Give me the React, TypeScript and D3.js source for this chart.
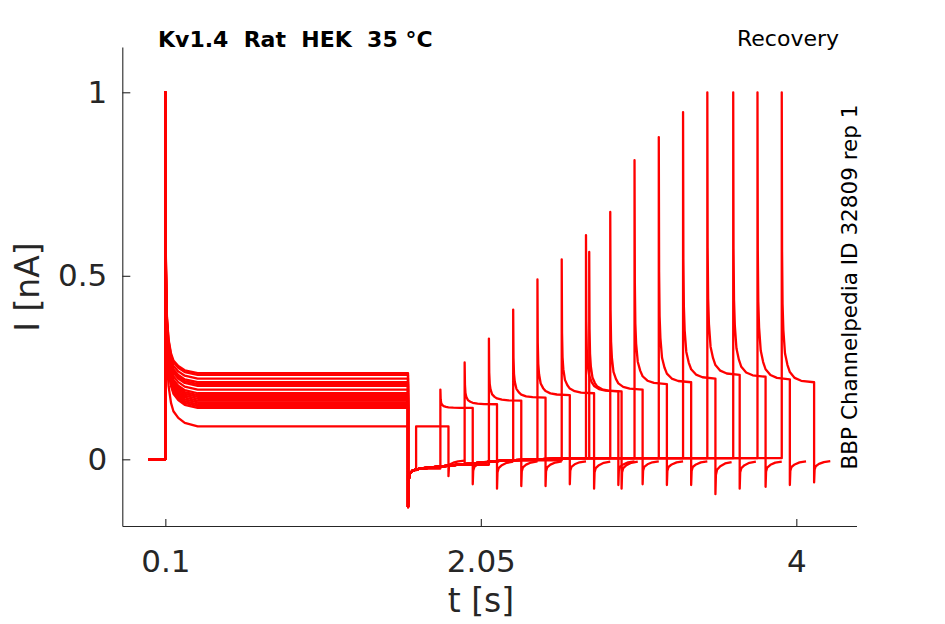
import React, { useEffect, useRef } from "react";
import * as d3 from "d3";

// ---- protocol (s) ----
const firstOnset = 0.1;
const firstOffset = 1.6;
const secondDuration = 0.2;
const tailDuration = 0.1;
const traceStart = -0.005;

// ---- per-trace values ----
const firstPlateaus = [0.09, 0.14, 0.145, 0.15, 0.155, 0.16, 0.165, 0.17, 0.175, 0.18, 0.19, 0.2, 0.205, 0.21, 0.22, 0.23, 0.235];
const secondOnsets = [1.65, 1.8, 1.95, 2.1, 2.25, 2.4, 2.55, 2.7, 2.72, 2.85, 3.0, 3.15, 3.3, 3.45, 3.61, 3.76, 3.91];
const secondPeaks = [0.09, 0.19, 0.264, 0.329, 0.408, 0.49, 0.545, 0.611, 0.565, 0.674, 0.815, 0.878, 0.946, 1, 1, 1, 1];
const secondPlateaus = [0.09, 0.14, 0.15, 0.16, 0.168, 0.175, 0.18, 0.185, 0.185, 0.19, 0.205, 0.21, 0.22, 0.23, 0.225, 0.218, 0.21];
const endDips = [-0.046, -0.068, -0.08, -0.073, -0.073, -0.068, -0.08, -0.07, -0.08, -0.068, -0.07, -0.07, -0.095, -0.08, -0.075, -0.07, -0.063];

// ---- shared waveform shapes ----
const spikeOffsets = [0, 0.002, 0.005, 0.01, 0.02, 0.035, 0.05, 0.08, 0.12, 0.2];
const firstDecay = [1, 0.5, 0.3, 0.2, 0.12, 0.07, 0.045, 0.025, 0.01, 0];
const secondDecay = [1, 0.45, 0.27, 0.18, 0.1, 0.06, 0.035, 0.015, 0.005, 0];
const offTimes = [0, 0.003, 0.01, 0.03, 0.08, 0.3, 0.6, 1.0, 2.5];
const offCurrents = [-0.13, -0.06, -0.04, -0.03, -0.025, -0.015, -0.003, 0.003, 0.005];
const tailTimes = [0, 0.003, 0.01, 0.03, 0.06, 0.1];
const tailShape = [1, 0.45, 0.3, 0.2, 0.12, 0.08];

// ---- axes ----
const xTicks = [0.1, 2.05, 4];
const yTicks = [0, 0.5, 1];
const xDomain = [-0.166, 4.372];
const yDomain = [-0.1817, 1.1234];

const title = "Kv1.4  Rat  HEK  35 °C";
const protocol = "Recovery";
const source = "BBP Channelpedia ID 32809 rep 1";
const xLabel = "t [s]";
const yLabel = "I [nA]";

const W = 945;
const H = 624;
const FONT = "'DejaVu Sans', sans-serif";
const INK = "#262626";

function buildTrace(i: number): [number, number][] {
  const pts: [number, number][] = [];
  pts.push([traceStart, 0]);
  pts.push([firstOnset, 0]);
  spikeOffsets.forEach((o, k) => {
    const p = firstPlateaus[i];
    pts.push([firstOnset + o, p + (1 - p) * firstDecay[k]]);
  });
  pts.push([firstOffset, firstPlateaus[i]]);
  const interval = secondOnsets[i] - firstOffset;
  let last = offCurrents[0];
  offTimes.forEach((o, k) => {
    if (o < interval) {
      pts.push([firstOffset + o, offCurrents[k]]);
      last = offCurrents[k];
    }
  });
  const s = secondOnsets[i];
  pts.push([s, last]);
  spikeOffsets.forEach((o, k) => {
    const p = secondPlateaus[i];
    pts.push([s + o, p + (secondPeaks[i] - p) * secondDecay[k]]);
  });
  const e = s + secondDuration;
  pts.push([e, secondPlateaus[i]]);
  tailTimes.forEach((o, k) => {
    if (o <= tailDuration) pts.push([e + o, endDips[i] * tailShape[k]]);
  });
  return pts;
}

export default function App() {
  const xAxisRef = useRef<SVGGElement>(null);
  const yAxisRef = useRef<SVGGElement>(null);

  const x = d3.scaleLinear().domain(xDomain).range([122.3, 856.5]);
  const y = d3.scaleLinear().domain(yDomain).range([526, 47]);

  useEffect(() => {
    if (xAxisRef.current) {
      const g = d3.select(xAxisRef.current);
      g.call(
        d3
          .axisBottom(x)
          .tickValues(xTicks)
          .tickSizeInner(-7)
          .tickSizeOuter(0)
          .tickPadding(24)
          .tickFormat((d) => String(d))
      );
      g.attr("font-family", FONT).attr("font-size", 31);
      g.selectAll("path,line").attr("stroke", INK).attr("stroke-width", 1.1);
      g.selectAll("text").attr("fill", INK);
    }
    if (yAxisRef.current) {
      const g = d3.select(yAxisRef.current);
      g.call(
        d3
          .axisLeft(y)
          .tickValues(yTicks)
          .tickSizeInner(-8)
          .tickSizeOuter(0)
          .tickPadding(15)
          .tickFormat((d) => String(d))
      );
      g.attr("font-family", FONT).attr("font-size", 31);
      g.selectAll("path,line").attr("stroke", INK).attr("stroke-width", 1.1);
      g.selectAll("text").attr("fill", INK);
    }
  }, []);

  const line = d3
    .line<[number, number]>()
    .x((d) => x(d[0]))
    .y((d) => y(d[1]));

  const traces = firstPlateaus.map((_, i) => buildTrace(i));

  return (
    <svg
      width={W}
      height={H}
      style={{ position: "absolute", left: 0, top: 0, background: "#fff" }}
    >
      <rect width={W} height={H} fill="#fff" />
      <g>
        {traces.map((t, i) => (
          <path
            key={i}
            d={line(t) || ""}
            fill="none"
            stroke="#ff0000"
            strokeWidth={2.3}
            strokeLinejoin="round"
          />
        ))}
      </g>
      <g ref={xAxisRef} transform={`translate(0,${y.range()[0]})`} />
      <g ref={yAxisRef} transform={`translate(${x.range()[0]},0)`} />
      <text
        x={158}
        y={47}
        fontFamily={FONT}
        fontWeight="bold"
        fontSize={22}
        fill="#000"
        style={{ whiteSpace: "pre" }}
      >
        {title}
      </text>
      <text x={737} y={46} fontFamily={FONT} fontSize={22} fill="#000">
        {protocol}
      </text>
      <text
        transform="translate(857,287) rotate(-90)"
        textAnchor="middle"
        fontFamily={FONT}
        fontSize={21.5}
        fill="#000"
      >
        {source}
      </text>
      <text x={481} y={612} textAnchor="middle" fontFamily={FONT} fontSize={33} fill={INK}>
        {xLabel}
      </text>
      <text
        transform="translate(39,287) rotate(-90)"
        textAnchor="middle"
        fontFamily={FONT}
        fontSize={33}
        fill={INK}
      >
        {yLabel}
      </text>
    </svg>
  );
}
